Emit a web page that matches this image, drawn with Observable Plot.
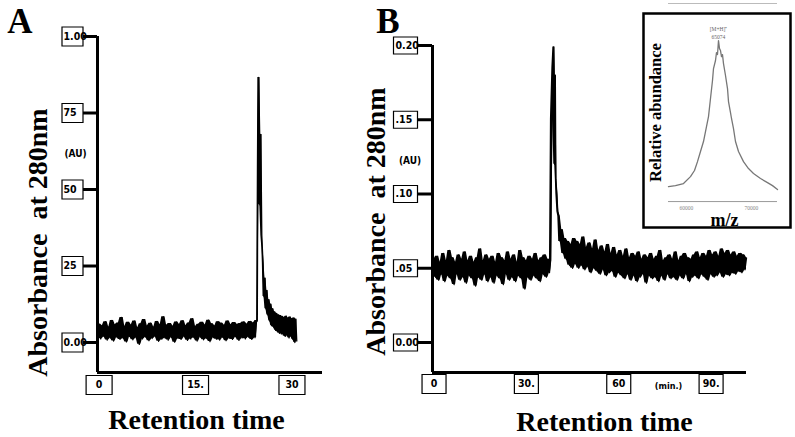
<!DOCTYPE html>
<html><head><meta charset="utf-8">
<script src="https://cdn.jsdelivr.net/npm/d3@7"></script>
<script src="https://cdn.jsdelivr.net/npm/@observablehq/plot@0.6"></script>
<style>
body{margin:0;background:#fff;}
#wrap{position:relative;width:795px;height:437px;overflow:hidden;background:#fff;}
#wrap > svg{position:absolute;top:0;}
</style></head><body><div id="wrap"></div>
<script>
// ---------- Panel A data ----------
const aYTicks = [0, 0.25, 0.5, 0.75, 1.0];
const aYTickLabels = ["0.00", "25", "50", "75", "1.00"];
const aXTicks = [0, 15, 30];
const aXTickLabels = ["0", "15.", "30"];
const aBaseStart = 0, aBaseStep = 0.25;
const aBaseline = [
0.060,0.012,0.055,0.020,0.068,0.008,0.050,0.015,0.072,0.005,
0.058,0.018,0.064,0.010,0.082,0.014,0.052,0.002,0.066,0.020,
0.057,0.009,0.070,0.016,0.048,-0.006,0.061,0.012,0.075,0.018,
0.054,0.006,0.063,0.013,0.050,0.019,0.069,0.004,0.058,0.011,
0.084,0.015,0.056,0.008,0.062,0.017,0.053,0.001,0.067,0.014,
0.059,0.010,0.071,0.019,0.055,0.007,0.064,0.012,0.078,0.016,
0.052,0.005,0.060,0.018,0.066,0.009,0.057,0.013,0.073,0.003,
0.061,0.016,0.054,0.011,0.068,0.008,0.063,0.017,0.056,0.006,
0.070,0.014,0.058,0.010,0.065,0.019,0.059,0.007,0.062,0.015,
0.067,0.012,0.060,0.018,0.069,0.010,0.064,0.016,0.072];
const aPeakTime  = [24.61, 24.69, 24.84, 25.00, 25.16, 25.31, 25.39];
const aPeakValue = [0.070, 0.580, 0.866, 0.450, 0.680, 0.350, 0.310];
const aTailStart = 25.5, aTailStep = 0.15;
const aTail = [
0.26,0.15,0.21,0.11,0.17,0.09,0.14,0.07,0.125,0.055,
0.11,0.05,0.10,0.04,0.095,0.035,0.09,0.03,0.088,0.028,
0.085,0.025,0.082,0.02,0.086,0.022,0.08,0.015,0.083,0.02,
0.078,0.01,0.08,0.0,0.076,0.005];

// ---------- Panel B data ----------
const bYTicks = [0, 0.05, 0.10, 0.15, 0.20];
const bYTickLabels = ["0.00", ".05", ".10", ".15", "0.20"];
const bXTicks = [0, 30, 60, 90];
const bXTickLabels = ["0", "30.", "60", "90."];
const bBaseStart = 0, bBaseStep = 0.5;
const bBaseline = [
0.056,0.044,0.058,0.042,0.054,0.046,0.060,0.041,0.055,0.045,
0.062,0.043,0.057,0.039,0.054,0.046,0.059,0.042,0.056,0.044,
0.061,0.040,0.055,0.045,0.058,0.043,0.054,0.038,0.057,0.044,
0.063,0.042,0.055,0.046,0.059,0.041,0.056,0.044,0.058,0.040,
0.054,0.045,0.060,0.043,0.057,0.039,0.055,0.046,0.061,0.042,
0.056,0.044,0.059,0.041,0.054,0.045,0.062,0.043,0.057,0.036,
0.055,0.044,0.058,0.042,0.056,0.045,0.060,0.043,0.055,0.041,
0.057,0.046,0.059,0.044,0.056,0.047];
const bPeakTime  = [37.8, 38.27, 38.6, 38.9, 39.2, 39.4, 39.57, 39.9, 40.2];
const bPeakValue = [0.055, 0.150, 0.185, 0.199, 0.120, 0.180, 0.110, 0.100, 0.088];
const bTailStart = 40.5, bTailStep = 0.5;
const bTail = [
0.085,0.068,0.076,0.060,0.070,0.056,0.068,0.052,0.066,0.050,
0.070,0.053,0.068,0.050,0.066,0.052,0.071,0.049,0.064,0.051,
0.067,0.047,0.063,0.050,0.069,0.048,0.062,0.046,0.065,0.049,
0.061,0.045,0.066,0.047,0.060,0.048,0.064,0.044,0.059,0.047,
0.062,0.045,0.058,0.043,0.063,0.046,0.057,0.042,0.060,0.045,
0.058,0.041,0.061,0.044,0.056,0.046,0.059,0.040,0.057,0.045,
0.060,0.043,0.056,0.044,0.058,0.041,0.062,0.045,0.055,0.042,
0.057,0.046,0.059,0.043,0.056,0.044,0.061,0.042,0.055,0.045,
0.058,0.043,0.060,0.046,0.057,0.041,0.056,0.044,0.059,0.045,
0.061,0.043,0.057,0.046,0.060,0.044,0.058,0.042,0.062,0.046,
0.059,0.044,0.061,0.045,0.058,0.047,0.063,0.044,0.060,0.046,
0.062,0.045,0.059,0.047,0.061,0.046,0.058,0.048,0.060,0.047,
0.059,0.049,0.057];

// ---------- Inset (mass spectrum) data ----------
const specMz = [57231,58308,59538,60615,61231,61692,62154,62615,63077,63385,63692,64000,64154,64462,64615,64769,64923,65077,65231,65385,65538,65692,66000,66308,66462,66769,66923,67231,67538,68000,68769,69538,70308,71385,72462,73231,74000];
const specRel = [9.3,9.9,11.2,15.5,19.3,24.8,31.1,37.3,46.6,52.8,64.0,75.2,82.6,87.6,92.5,91.3,100,95,93.8,90,91.3,85.7,78.3,70.2,62.1,55.3,51.6,45.3,37.3,31.1,24.8,20.5,17.4,14.3,11.8,9.9,7.5];
const specTicks = [60000, 70000];
const peakIon = "[M+H]\u207A";
const peakLabel = "65074";

// ---------- build series ----------
const aSeries = [
  ...aBaseline.map((v, i) => ({t: aBaseStart + i * aBaseStep, v})),
  ...aPeakTime.map((t, i) => ({t, v: aPeakValue[i]})),
  ...aTail.map((v, i) => ({t: aTailStart + i * aTailStep, v}))
];
const bSeries = [
  ...bBaseline.map((v, i) => ({t: bBaseStart + i * bBaseStep, v})),
  ...bPeakTime.map((t, i) => ({t, v: bPeakValue[i]})),
  ...bTail.map((v, i) => ({t: bTailStart + i * bTailStep, v}))
];
// local min/max envelope of the recorded trace (fills the noise band)
const envelope = s => s.map((d, i) => {
  const w = [s[Math.max(0, i - 1)].v, d.v, s[Math.min(s.length - 1, i + 1)].v];
  return {t: d.t, lo: d3.min(w), hi: d3.max(w)};
});
const aEnv = envelope(aSeries), bEnv = envelope(bSeries);
const spectrum = specMz.map((mz, i) => ({mz, rel: specRel[i]}));
const peak = d3.greatest(spectrum, d => d.rel);

// ---------- styles ----------
const serif = "'Liberation Serif','Times New Roman',serif";
const tickFont = {fontFamily: "'Liberation Sans Narrow','DejaVu Sans Condensed','Arial Narrow',sans-serif", fontWeight: "bold", fontSize: 10.5, lineAnchor: "middle"};
const boxSym = (w, h) => ({draw(ctx) { ctx.rect(-w / 2, -h / 2, w, h); }});
const bigText = {fontFamily: serif, fontWeight: "bold", fontSize: 28, textAnchor: "middle"};
const wrap = document.getElementById("wrap");

// ---------- Panel A ----------
const aX = [-0.25, 34.75], aY = [-0.098, 1.0];
const plotA = Plot.plot({
  width: 330, height: 437,
  marginLeft: 97, marginRight: 8, marginTop: 36, marginBottom: 65,
  x: {domain: aX, axis: null},
  y: {domain: aY, axis: null},
  style: {background: "transparent", overflow: "visible"},
  marks: [
    Plot.axisY(aYTicks, {anchor: "left", tickSize: 15, strokeWidth: 3, tickFormat: () => "", label: null}),
    Plot.dot(aYTicks, {y: d => d, frameAnchor: "left", dx: -25, symbol: boxSym(21, 19), fill: "white", stroke: "black", strokeWidth: 1.2}),
    Plot.text(aYTicks, {y: d => d, text: (d, i) => aYTickLabels[i], frameAnchor: "left", dx: -34, textAnchor: "start", ...tickFont}),
    Plot.dot(aXTicks, {x: d => d, frameAnchor: "bottom", dy: 12.5, symbol: boxSym(26, 19), fill: "white", stroke: "black", strokeWidth: 1.2}),
    Plot.text(aXTicks, {x: d => d, text: (d, i) => aXTickLabels[i], frameAnchor: "bottom", dy: 12.5, textAnchor: "middle", ...tickFont}),
    Plot.ruleX([aX[0]], {strokeWidth: 3}),
    Plot.ruleY([aY[0]], {strokeWidth: 3}),
    Plot.areaY(aEnv, {x: "t", y1: "lo", y2: "hi", fill: "black"}),
    Plot.line(aSeries, {x: "t", y: "v", strokeWidth: 1.3, stroke: "black"}),
    Plot.text(["A"], {frameAnchor: "top-left", dx: -77.5, dy: -4, textAnchor: "middle", lineAnchor: "bottom", fontFamily: serif, fontWeight: "bold", fontSize: 35}),
    Plot.text(["Absorbance\u00a0 at 280nm"], {frameAnchor: "left", dx: -59, dy: 38, rotate: -90, lineAnchor: "middle", ...bigText}),
    Plot.text(["Retention time"], {frameAnchor: "bottom", dx: -13.5, dy: 56, lineAnchor: "bottom", ...bigText}),
    Plot.text(["(AU)"], {frameAnchor: "top-left", dx: -22, dy: 117, textAnchor: "middle", ...tickFont, fontSize: 10})
  ]
});
plotA.style.left = "0px";
wrap.appendChild(plotA);

// ---------- Panel B ----------
const bX = [-0.5, 101.5], bY = [-0.0202, 0.2];
const plotB = Plot.plot({
  width: 420, height: 437,
  marginLeft: 92, marginRight: 14, marginTop: 45, marginBottom: 65,
  x: {domain: bX, axis: null},
  y: {domain: bY, axis: null},
  style: {background: "transparent", overflow: "visible"},
  marks: [
    Plot.axisY(bYTicks, {anchor: "left", tickSize: 15, strokeWidth: 3, tickFormat: () => "", label: null}),
    Plot.dot(bYTicks, {y: d => d, frameAnchor: "left", dx: -27, symbol: boxSym(24, 17), fill: "white", stroke: "black", strokeWidth: 1.2}),
    Plot.text(bYTicks, {y: d => d, text: (d, i) => bYTickLabels[i], frameAnchor: "left", dx: -37, textAnchor: "start", ...tickFont}),
    Plot.dot(bXTicks, {x: d => d, frameAnchor: "bottom", dy: 11.5, symbol: boxSym(24, 19), fill: "white", stroke: "black", strokeWidth: 1.2}),
    Plot.text(bXTicks, {x: d => d, text: (d, i) => bXTickLabels[i], frameAnchor: "bottom", dy: 11.5, textAnchor: "middle", ...tickFont}),
    Plot.ruleX([bX[0]], {strokeWidth: 3}),
    Plot.ruleY([bY[0]], {strokeWidth: 3}),
    Plot.areaY(bEnv, {x: "t", y1: "lo", y2: "hi", fill: "black"}),
    Plot.line(bSeries, {x: "t", y: "v", strokeWidth: 1.3, stroke: "black"}),
    Plot.text(["B"], {frameAnchor: "top-left", dx: -44.5, dy: -13, textAnchor: "middle", lineAnchor: "bottom", fontFamily: serif, fontWeight: "bold", fontSize: 35}),
    Plot.text(["Absorbance\u00a0 at 280nm"], {frameAnchor: "left", dx: -56, dy: 12.5, rotate: -90, lineAnchor: "middle", ...bigText}),
    Plot.text(["Retention time"], {frameAnchor: "bottom", dx: 15, dy: 58, lineAnchor: "bottom", ...bigText}),
    Plot.text(["(AU)"], {frameAnchor: "top-left", dx: -22.5, dy: 115, textAnchor: "middle", ...tickFont, fontSize: 10}),
    Plot.text(["(min.)"], {frameAnchor: "bottom", dx: 79, dy: 14, textAnchor: "middle", ...tickFont, fontSize: 9})
  ]
});
plotB.style.left = "340px";
wrap.appendChild(plotB);

// ---------- Inset ----------
const sX = [53385, 76000], sY = [-16.1, 116.8];
const mzExtent = d3.extent(spectrum, d => d.mz);
const plotC = Plot.plot({
  width: 149, height: 227,
  marginLeft: 0, marginRight: 2, marginTop: 13, marginBottom: 0,
  x: {domain: sX, axis: null},
  y: {domain: sY, axis: null},
  style: {background: "transparent", overflow: "visible"},
  marks: [
    Plot.ruleY([sY[1]], {x1: mzExtent[0], x2: mzExtent[1], dy: -10, stroke: "#bbb", strokeWidth: 1.2}),
    Plot.frame({stroke: "black", strokeWidth: 2.5, fill: "white"}),
    Plot.ruleY([0], {x1: mzExtent[0], x2: mzExtent[1], stroke: "#999", strokeWidth: 1}),
    Plot.text(specTicks, {x: d => d, y: 0, dy: 7, text: d => String(d), fontSize: 5.5, fill: "#888", fontFamily: serif}),
    Plot.line(spectrum, {x: "mz", y: "rel", stroke: "#777", strokeWidth: 1.3}),
    Plot.text([peak], {x: "mz", y: "rel", text: () => peakIon, dy: -10, lineAnchor: "bottom", fontSize: 5.5, fill: "#666", fontFamily: serif}),
    Plot.text([peak], {x: "mz", y: "rel", text: () => peakLabel, dy: -2, lineAnchor: "bottom", fontSize: 5.5, fill: "#666", fontFamily: serif}),
    Plot.text(["Relative abundance"], {frameAnchor: "left", dx: 12, dy: -8, rotate: -90, textAnchor: "middle", lineAnchor: "middle", fontFamily: serif, fontWeight: "bold", fontSize: 16.5, fill: "black"}),
    Plot.text(["m/z"], {frameAnchor: "bottom", dx: 7.5, dy: -2, lineAnchor: "bottom", fontFamily: serif, fontWeight: "bold", fontSize: 18, fill: "black"})
  ]
});
plotC.style.left = "643px";
wrap.appendChild(plotC);
</script></body></html>
